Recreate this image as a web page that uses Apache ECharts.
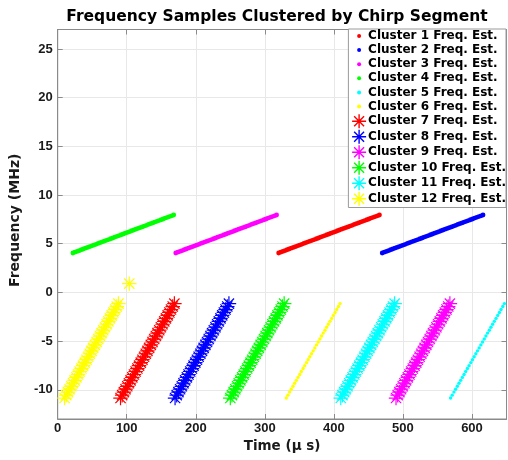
<!DOCTYPE html>
<html><head><meta charset="utf-8">
<script src="https://cdn.jsdelivr.net/npm/echarts@6/dist/echarts.min.js"></script>
<style>html,body{margin:0;padding:0;background:#fff}#c{width:508px;height:460px}</style>
</head><body><div id="c"></div>
<script>
// ---- data (time in µs, frequency in MHz) ----
const xTicks = [0, 100, 200, 300, 400, 500, 600];
const yTicks = [-10, -5, 0, 5, 10, 15, 20, 25];

// rising chirp segments (clusters 1-4)
const upFreq = [4.05,4.13,4.21,4.29,4.38,4.46,4.54,4.62,4.70,4.78,4.86,4.94,5.03,5.11,5.19,5.27,5.35,5.43,5.51,5.59,5.68,5.76,5.84,5.92,6.00,6.08,6.16,6.24,6.33,6.41,6.49,6.57,6.65,6.73,6.81,6.89,6.98,7.06,7.14,7.22,7.30,7.38,7.46,7.54,7.63,7.71,7.79,7.87,7.95];
const c1Time = [320,323,326.1,329.1,332.2,335.2,338.3,341.3,344.3,347.4,350.4,353.5,356.5,359.5,362.6,365.6,368.7,371.7,374.8,377.8,380.8,383.9,386.9,390,393,396,399.1,402.1,405.2,408.2,411.3,414.3,417.3,420.4,423.4,426.5,429.5,432.5,435.6,438.6,441.7,444.7,447.8,450.8,453.8,456.9,459.9,463,466];
const c2Time = [470,473,476.1,479.1,482.2,485.2,488.3,491.3,494.3,497.4,500.4,503.5,506.5,509.5,512.6,515.6,518.7,521.7,524.8,527.8,530.8,533.9,536.9,540,543,546,549.1,552.1,555.2,558.2,561.3,564.3,567.3,570.4,573.4,576.5,579.5,582.5,585.6,588.6,591.7,594.7,597.8,600.8,603.8,606.9,609.9,613,616];
const c3Time = [171,174,177.1,180.1,183.2,186.2,189.3,192.3,195.3,198.4,201.4,204.5,207.5,210.5,213.6,216.6,219.7,222.7,225.8,228.8,231.8,234.9,237.9,241,244,247,250.1,253.1,256.2,259.2,262.3,265.3,268.3,271.4,274.4,277.5,280.5,283.5,286.6,289.6,292.7,295.7,298.8,301.8,304.8,307.9,310.9,314,317];
const c4Time = [22,25,28.1,31.1,34.2,37.2,40.3,43.3,46.3,49.4,52.4,55.5,58.5,61.5,64.6,67.6,70.7,73.7,76.8,79.8,82.8,85.9,88.9,92,95,98,101.1,104.1,107.2,110.2,113.3,116.3,119.3,122.4,125.4,128.5,131.5,134.5,137.6,140.6,143.7,146.7,149.8,152.8,155.8,158.9,161.9,165,168];

// steep segments (clusters 5-12)
const downFreq = [-10.85,-10.55,-10.24,-9.94,-9.64,-9.33,-9.03,-8.73,-8.43,-8.12,-7.82,-7.52,-7.21,-6.91,-6.61,-6.30,-6.00,-5.70,-5.39,-5.09,-4.79,-4.48,-4.18,-3.88,-3.58,-3.27,-2.97,-2.67,-2.36,-2.06,-1.76,-1.45,-1.15];
const c12Freq = [-10.85,-10.55,-10.24,-9.94,-9.64,-9.33,-9.03,-8.73,-8.43,-8.12,-7.82,-7.52,-7.21,-6.91,-6.61,-6.30,-6.00,-5.70,-5.39,-5.09,-4.79,-4.48,-4.18,-3.88,-3.58,-3.27,-2.97,-2.67,-2.36,-2.06,-1.76,-1.45,-1.15,0.9];
const c5Time = [569,571.4,573.9,576.3,578.8,581.2,583.6,586.1,588.5,590.9,593.4,595.8,598.3,600.7,603.1,605.6,608,610.4,612.9,615.3,617.8,620.2,622.6,625.1,627.5,629.9,632.4,634.8,637.3,639.7,642.1,644.6,647];
const c6Time = [331,333.4,335.9,338.3,340.8,343.2,345.6,348.1,350.5,352.9,355.4,357.8,360.3,362.7,365.1,367.6,370,372.4,374.9,377.3,379.8,382.2,384.6,387.1,389.5,391.9,394.4,396.8,399.3,401.7,404.1,406.6,409];
const c7Time = [91,93.4,95.9,98.3,100.8,103.2,105.6,108.1,110.5,112.9,115.4,117.8,120.3,122.7,125.1,127.6,130,132.4,134.9,137.3,139.8,142.2,144.6,147.1,149.5,151.9,154.4,156.8,159.3,161.7,164.1,166.6,169];
const c8Time = [170,172.4,174.9,177.3,179.8,182.2,184.6,187.1,189.5,191.9,194.4,196.8,199.3,201.7,204.1,206.6,209,211.4,213.9,216.3,218.8,221.2,223.6,226.1,228.5,230.9,233.4,235.8,238.3,240.7,243.1,245.6,248];
const c9Time = [490,492.4,494.9,497.3,499.8,502.2,504.6,507.1,509.5,511.9,514.4,516.8,519.3,521.7,524.1,526.6,529,531.4,533.9,536.3,538.8,541.2,543.6,546.1,548.5,550.9,553.4,555.8,558.3,560.7,563.1,565.6,568];
const c10Time = [250,252.4,254.9,257.3,259.8,262.2,264.6,267.1,269.5,271.9,274.4,276.8,279.3,281.7,284.1,286.6,289,291.4,293.9,296.3,298.8,301.2,303.6,306.1,308.5,310.9,313.4,315.8,318.3,320.7,323.1,325.6,328];
const c11Time = [410,412.4,414.9,417.3,419.8,422.2,424.6,427.1,429.5,431.9,434.4,436.8,439.3,441.7,444.1,446.6,449,451.4,453.9,456.3,458.8,461.2,463.6,466.1,468.5,470.9,473.4,475.8,478.3,480.7,483.1,485.6,488];
const c12Time = [10,12.4,14.9,17.3,19.8,22.2,24.6,27.1,29.5,31.9,34.4,36.8,39.3,41.7,44.1,46.6,49,51.4,53.9,56.3,58.8,61.2,63.6,66.1,68.5,70.9,73.4,75.8,78.3,80.7,83.1,85.6,88,103.7];

const clusterNames = ['Cluster 1 Freq. Est.','Cluster 2 Freq. Est.','Cluster 3 Freq. Est.','Cluster 4 Freq. Est.','Cluster 5 Freq. Est.','Cluster 6 Freq. Est.','Cluster 7 Freq. Est.','Cluster 8 Freq. Est.','Cluster 9 Freq. Est.','Cluster 10 Freq. Est.','Cluster 11 Freq. Est.','Cluster 12 Freq. Est.'];
const clusterTimes = [c1Time,c2Time,c3Time,c4Time,c5Time,c6Time,c7Time,c8Time,c9Time,c10Time,c11Time,c12Time];
const clusterFreqs = [upFreq,upFreq,upFreq,upFreq,downFreq,downFreq,downFreq,downFreq,downFreq,downFreq,downFreq,c12Freq];
const clusterColors = ['#ff0000','#0000ff','#ff00ff','#00ff00','#00ffff','#ffff00','#ff0000','#0000ff','#ff00ff','#00ff00','#00ffff','#ffff00'];
const clusterMarkers = ['dot','dot','dot','dot','dot','dot','star','star','star','star','star','star'];

// ---- drawing ----
const starPath = 'path://M0,-7L0,7M-7,0L7,0M-4.95,-4.95L4.95,4.95M-4.95,4.95L4.95,-4.95';
const dotIcon = 'path://M-7,-7L-7,-7M7,7L7,7M0,-2A2,2,0,1,1,0,2A2,2,0,1,1,0,-2Z';
const TXT = '#1a1a1a';
const AX = '#8a8a8a';

const series = clusterNames.map((name, i) => {
  const star = clusterMarkers[i] === 'star';
  const dense = clusterFreqs[i] === upFreq;
  const c = clusterColors[i];
  return {
    name, type: 'scatter', xAxisIndex: 0, yAxisIndex: 0,
    data: clusterTimes[i].map((t, k) => [t, clusterFreqs[i][k]]),
    symbol: star ? starPath : 'circle',
    symbolSize: star ? 14.5 : (dense ? 4.8 : 3.4),
    itemStyle: star ? {color: c, borderColor: c, borderWidth: 1.2, opacity: 1}
                    : {color: c, borderWidth: 0, opacity: 1},
    emphasis: {disabled: true}, silent: true, animation: false
  };
});

const legendData = clusterNames.map((name, i) => {
  const star = clusterMarkers[i] === 'star';
  const c = clusterColors[i];
  return {
    name, icon: star ? starPath : dotIcon,
    itemStyle: star ? {color: c, borderColor: c, borderWidth: 1.4} : {color: c, borderColor: c, borderWidth: 0}
  };
});

const labelFont = {fontFamily: 'Liberation Sans', fontWeight: 'bold', fontSize: 13, color: TXT, lineHeight: 13};

const chart = echarts.init(document.getElementById('c'), null, {renderer: 'canvas'});
chart.setOption({
  backgroundColor: '#ffffff',
  animation: false,
  title: {
    text: 'Frequency Samples Clustered by Chirp Segment',
    left: 277, top: 9, padding: 0, textAlign: 'center',
    textStyle: {fontFamily: 'DejaVu Sans', fontWeight: 'bold', fontSize: 15.5, color: '#000', lineHeight: 16}
  },
  grid: {left: 52, right: 1.5, top: 29.5, bottom: 41, containLabel: false,
         show: true, borderColor: AX, borderWidth: 1, backgroundColor: '#fff'},
  legend: {
    data: legendData, orient: 'vertical', right: 2, top: 29,
    padding: [0, 0, 1, 3], itemGap: 0.1, itemWidth: 14, itemHeight: 14,
    backgroundColor: '#ffffff', borderColor: '#9a9a9a', borderWidth: 1,
    selectedMode: false,
    textStyle: {fontFamily: 'DejaVu Sans', fontWeight: 'bold', fontSize: 12, color: '#000', lineHeight: 14, padding: [0, 0, 0, -3]}
  },
  xAxis: [{
    type: 'value', min: 0, max: 650, position: 'bottom',
    name: 'Time (μ s)', nameLocation: 'middle', nameGap: 17,
    nameTextStyle: {fontFamily: 'DejaVu Sans', fontWeight: 'bold', fontSize: 13.5, color: TXT, lineHeight: 14},
    axisLine: {show: true, onZero: false, lineStyle: {color: AX, width: 1}},
    axisTick: {show: true, inside: true, length: 5, customValues: xTicks, lineStyle: {color: AX}},
    axisLabel: Object.assign({margin: 3, customValues: xTicks}, labelFont),
    splitLine: {show: true, lineStyle: {color: '#e8e8e8', width: 1}}
  }, {
    type: 'value', min: 0, max: 650, position: 'top',
    axisLine: {show: true, onZero: false, lineStyle: {color: AX, width: 1}},
    axisTick: {show: true, inside: true, length: 5, customValues: xTicks, lineStyle: {color: AX}},
    axisLabel: {show: false}, splitLine: {show: false}
  }],
  yAxis: [{
    type: 'value', min: -13, max: 27, position: 'left',
    name: 'Frequency (MHz)', nameLocation: 'middle', nameGap: 24,
    nameTextStyle: {fontFamily: 'DejaVu Sans', fontWeight: 'bold', fontSize: 14, color: TXT, lineHeight: 15, padding: [0, 0, 0, 8]},
    axisLine: {show: true, onZero: false, lineStyle: {color: AX, width: 1}},
    axisTick: {show: true, inside: true, length: 5, customValues: yTicks, lineStyle: {color: AX}},
    axisLabel: Object.assign({margin: 5, customValues: yTicks}, labelFont),
    splitLine: {show: true, lineStyle: {color: '#e8e8e8', width: 1}}
  }, {
    type: 'value', min: -13, max: 27, position: 'right',
    axisLine: {show: true, onZero: false, lineStyle: {color: AX, width: 1}},
    axisTick: {show: true, inside: true, length: 5, customValues: yTicks, lineStyle: {color: AX}},
    axisLabel: {show: false}, splitLine: {show: false}
  }],
  series
});
</script></body></html>
